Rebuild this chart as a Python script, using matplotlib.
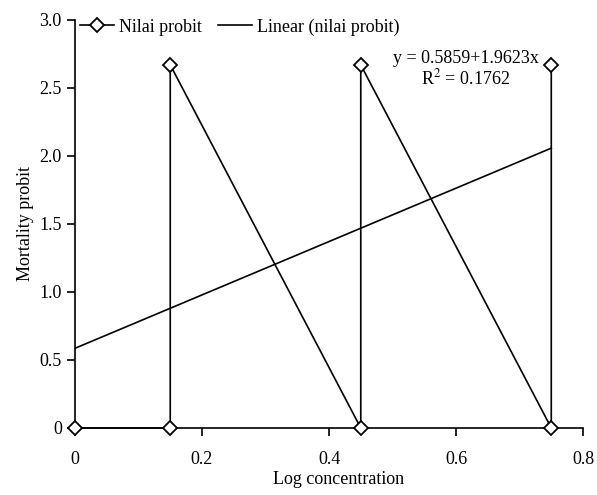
#!/usr/bin/env python3
"""Mortality probit vs log concentration with linear trend line."""

import matplotlib
matplotlib.use("Agg")
import matplotlib.pyplot as plt
import numpy as np

log_conc = [0.0, 0.15, 0.15, 0.45, 0.45, 0.75, 0.75]
probit = [0.0, 0.0, 2.67, 0.0, 2.67, 0.0, 2.67]

intercept = 0.5859
slope = 1.9623
r_squared = 0.1762

x_ticks = [0, 0.2, 0.4, 0.6, 0.8]
x_tick_labels = ["0", "0.2", "0.4", "0.6", "0.8"]
y_ticks = [0, 0.5, 1.0, 1.5, 2.0, 2.5, 3.0]
y_tick_labels = ["0", "0.5", "1.0", "1.5", "2.0", "2.5", "3.0"]

plt.rcParams["font.family"] = ["Liberation Serif", "DejaVu Serif"]
plt.rcParams["font.size"] = 13
plt.rcParams["mathtext.fontset"] = "stix"

fig = plt.figure(figsize=(5.97, 4.95), dpi=100)
ax = fig.add_axes([0.1256, 0.1354, 0.851, 0.8242])

ax.plot(log_conc, probit, color="black", linewidth=1.2, marker="D", markersize=7.5,
        markerfacecolor="white", markeredgecolor="black", markeredgewidth=1.3,
        label="Nilai probit", clip_on=False, zorder=3)

fit_x = np.array([min(log_conc), max(log_conc)])
ax.plot(fit_x, intercept + slope * fit_x, color="black", linewidth=1.2,
        label="Linear (nilai probit)", zorder=2)

ax.text(0.615, 2.72, f"y = {intercept}+{slope}x", ha="center", va="center")
ax.text(0.615, 2.574, f"R$^{{2}}$ = {r_squared}", ha="center", va="center")

ax.set_xlim(0, 0.8)
ax.set_ylim(0, 3.0)
ax.set_xticks(x_ticks)
ax.set_xticklabels(x_tick_labels)
ax.set_yticks(y_ticks)
ax.set_yticklabels(y_tick_labels)
ax.tick_params(direction="out", length=5.5, width=1.2)
ax.tick_params(axis="x", pad=11)
ax.tick_params(axis="y", pad=4)
for side in ("top", "right"):
    ax.spines[side].set_visible(False)
for side in ("left", "bottom"):
    ax.spines[side].set_linewidth(1.2)

ax.set_xlabel("Log concentration")
ax.xaxis.set_label_coords(0.518, -0.106)
ax.set_ylabel("Mortality probit", labelpad=3.5)

ax.legend(loc="center left", bbox_to_anchor=(0.01, 0.983), ncol=2, frameon=False,
          handlelength=1.9, handletextpad=0.25, columnspacing=0.9, borderaxespad=0,
          borderpad=0)

fig.savefig("out.png", dpi=100)
